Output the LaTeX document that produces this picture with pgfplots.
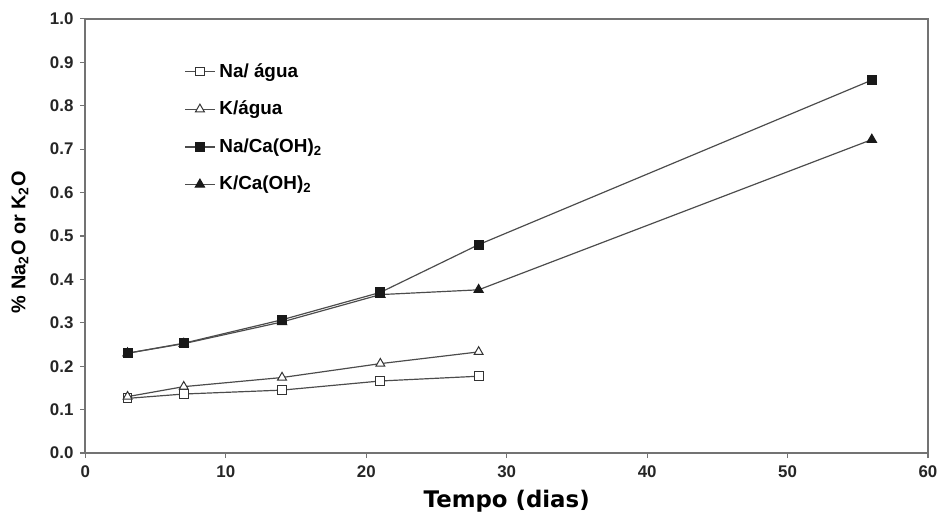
\documentclass[border=0pt]{standalone}
\usepackage{pgfplots}
\pgfplotsset{compat=1.18}
\usepackage{fontspec}
\setmainfont{Liberation Sans}
\newfontfamily\dvs{DejaVu Sans}
\begin{document}
\begin{tikzpicture}[x=1pt,y=1pt]
\begin{axis}[
  scale only axis,
  width=424pt, height=218.5pt,
  xmin=0, xmax=60, ymin=0, ymax=1.0,
  xtick={0,10,...,60}, ytick={0,0.1,...,1.0},
  yticklabel style={/pgf/number format/.cd,fixed,fixed zerofill,precision=1},
  /pgf/number format/assume math mode=true,
  tick label style={font=\fontsize{8.5}{9}\selectfont\bfseries, text=black!85},
  xticklabel style={yshift=-0.5pt},
  tick align=outside, tick pos=left,
  major tick length=2.5pt,
  axis line style={black!55, line width=1pt},
  every tick/.style={black!55, line width=0.6pt},
  xlabel={\dvs\bfseries Tempo (dias)},
  xlabel style={font=\fontsize{11.5}{12}\selectfont, yshift=1pt},
  ylabel={\bfseries \% Na$_{\mathbf 2}$O or K$_{\mathbf 2}$O},
  ylabel style={font=\fontsize{10}{11}\selectfont, yshift=4pt, xshift=-3pt},
  legend cell align=left,
  legend style={draw=none, fill=none, at={(rel axis cs:0.117,0.908)}, anchor=north west,
    font=\fontsize{9.5}{10}\selectfont\bfseries, row sep=6.5pt, inner sep=0pt},
  legend image code/.code={\draw[mark repeat=2,mark phase=2] plot coordinates {(0pt,0pt)(7.5pt,0pt)(15pt,0pt)};},
  every axis plot/.append style={line width=0.6pt, draw=black!70},
]
\addplot[mark=square*, mark options={fill=white, draw=black!80, mark size=2.2pt, line width=0.5pt}]
  coordinates {(3,0.126)(7,0.136)(14,0.145)(21,0.166)(28,0.177)};
\addlegendentry{Na/ água}
\addplot[mark=triangle*, mark options={fill=white, draw=black!80, mark size=2.6pt, line width=0.5pt}]
  coordinates {(3,0.130)(7,0.153)(14,0.174)(21,0.206)(28,0.233)};
\addlegendentry{K/água}
\addplot[mark=square*, mark options={fill=black!90, draw=black!90, mark size=2.2pt}]
  coordinates {(3,0.230)(7,0.253)(14,0.307)(21,0.370)(28,0.480)(56,0.859)};
\addlegendentry{Na/Ca(OH)$_{\mathbf 2}$}
\addplot[mark=triangle*, mark options={fill=black!90, draw=black!90, mark size=2.6pt}]
  coordinates {(3,0.230)(7,0.252)(14,0.302)(21,0.365)(28,0.376)(56,0.722)};
\addlegendentry{K/Ca(OH)$_{\mathbf 2}$}
\end{axis}
\path (current axis.south west) ++(-43pt,-29.5pt) coordinate (bl);
\path (current axis.north east) ++(5pt,9.5pt) coordinate (tr);
\useasboundingbox (bl) rectangle (tr);
\end{tikzpicture}
\end{document}
